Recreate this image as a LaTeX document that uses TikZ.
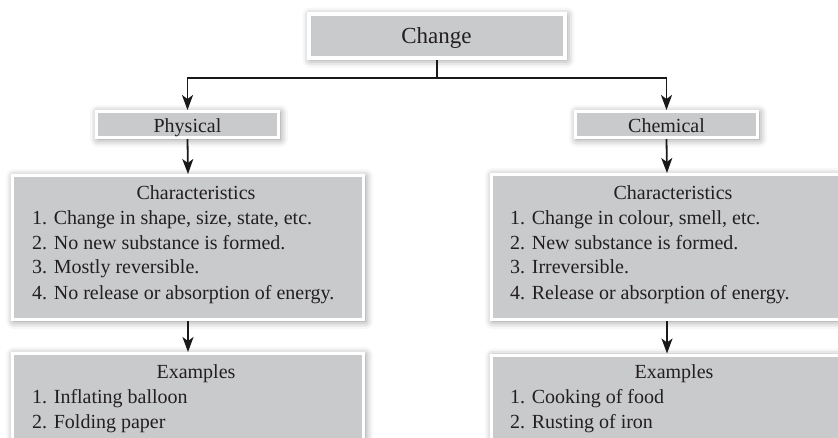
\documentclass[tikz,border=0pt]{standalone}
\usepackage{fontspec}
\setmainfont{Liberation Serif}
\usetikzlibrary{shadows.blur,arrows.meta}

\definecolor{boxgray}{RGB}{201,202,204}
\definecolor{ink}{RGB}{35,31,32}

\tikzset{
  panel/.style={rectangle, fill=boxgray, draw=white, line width=3pt,
    inner sep=0pt,
    blur shadow={shadow xshift=1.5pt, shadow yshift=-1.5pt,
      shadow blur radius=8pt, shadow opacity=50}},
  label/.style={anchor=base, inner sep=0pt, text=ink,
    font=\fontsize{20}{25}\selectfont},
  item/.style={anchor=base west, inner sep=0pt, text=ink,
    font=\fontsize{20}{25}\selectfont},
  link/.style={draw=black!90, line width=1.8pt},
  arr/.style={link, -{Stealth[length=15pt, width=11pt, inset=4pt]}},
}

\begin{document}
\begin{tikzpicture}[x=1pt, y=-1pt]
  \useasboundingbox (0,0) rectangle (838,437);
  \clip (0,0) rectangle (838,437);

  % boxes
  \node[panel, line width=4pt, minimum width=256pt, minimum height=44pt] (change) at (437,36) {};
  \node[panel, minimum width=182pt, minimum height=26pt] (physical) at (187.5,124.5) {};
  \node[panel, minimum width=182pt, minimum height=26pt] (chemical) at (666.5,124.5) {};
  \node[panel, minimum width=351pt, minimum height=144pt] (pchar) at (188,247.5) {};
  \node[panel, minimum width=351pt, minimum height=145pt] (cchar) at (667,247) {};
  \node[panel, minimum width=351pt, minimum height=115pt] (pex) at (188,411) {};
  \node[panel, minimum width=351pt, minimum height=114pt] (cex) at (667,412) {};

  % connectors
  \coordinate (split) at (437,78);
  \draw[link] (change.south) -- (split);
  \draw[arr] (split) -| (physical.north);
  \draw[arr] (split) -| (chemical.north);
  \draw[arr] (physical.south) -- (pchar.north);
  \draw[arr] (chemical.south) -- (cchar.north);
  \draw[arr] (pchar.south) -- (pex.north);
  \draw[arr] (cchar.south) -- (cex.north);

  % headings
  \node[label, font=\fontsize{23}{27}\selectfont] (changeT) at (436.5,43) {Change};
  \node[label] (physicalT) at (187.5,132) {Physical};
  \node[label] (chemicalT) at (666.5,132) {Chemical};

  % physical change
  \node[label] (pcharT) at (196,199.5) {Characteristics};
  \node[item] (pc1) at (32,224.5) {1. Change in shape, size, state, etc.};
  \node[item] (pc2) at (32,249) {2. No new substance is formed.};
  \node[item] (pc3) at (32,273.5) {3. Mostly reversible.};
  \node[item] (pc4) at (32,299) {4. No release or absorption of energy.};
  \node[label] (pexT) at (196,378.5) {Examples};
  \node[item] (pe1) at (32,403.5) {1. Inflating balloon};
  \node[item] (pe2) at (32,428) {2. Folding paper};

  % chemical change
  \node[label] (ccharT) at (673,199.5) {Characteristics};
  \node[item] (cc1) at (510,224.5) {1. Change in colour, smell, etc.};
  \node[item] (cc2) at (510,249) {2. New substance is formed.};
  \node[item] (cc3) at (510,273.5) {3. Irreversible.};
  \node[item] (cc4) at (510,299) {4. Release or absorption of energy.};
  \node[label] (cexT) at (674,378.5) {Examples};
  \node[item] (ce1) at (510,403.5) {1. Cooking of food};
  \node[item] (ce2) at (510,428) {2. Rusting of iron};
\end{tikzpicture}
\end{document}
